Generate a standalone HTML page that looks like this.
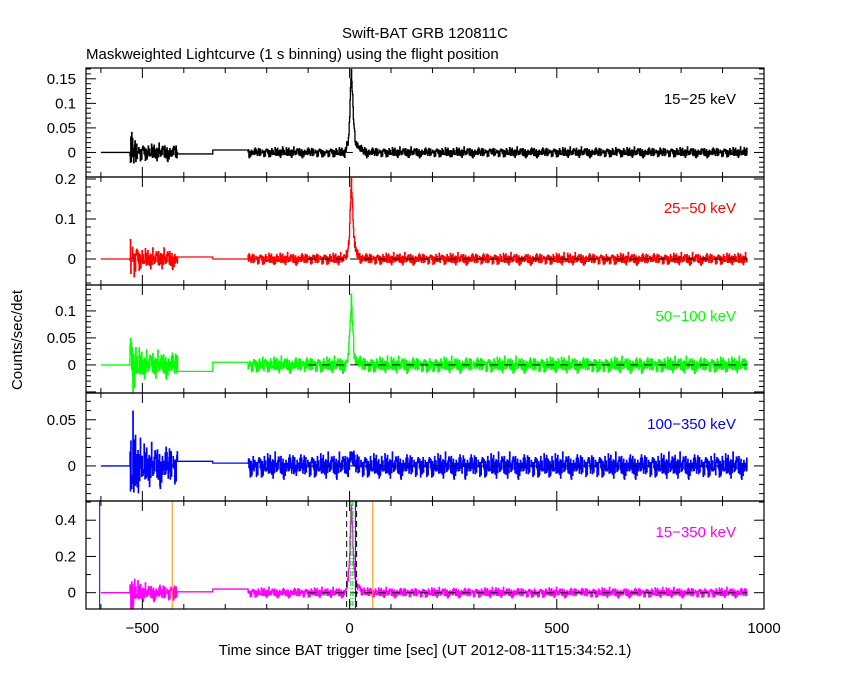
<!DOCTYPE html>
<html><head><meta charset="utf-8">
<style>
body{margin:0;background:#fff;}
svg{display:block;font-family:"Liberation Sans",sans-serif;}
text{font-size:15px;}
</style></head>
<body>
<svg id="chart" width="850" height="680" xmlns="http://www.w3.org/2000/svg">
<rect width="850" height="680" fill="#fff"/>
<defs id="defs"></defs>
<text x="425" y="38" text-anchor="middle">Swift-BAT GRB 120811C</text>
<text x="86" y="59">Maskweighted Lightcurve (1 s binning) using the flight position</text>
<text transform="translate(22,340) rotate(-90)" text-anchor="middle">Counts/sec/det</text>
<text x="425" y="655" text-anchor="middle">Time since BAT trigger time [sec] (UT 2012-08-11T15:34:52.1)</text>
<g id="plots"></g>
</svg>
<script>
// ---- data ----
const segBounds = [-600, -530, -415, -330, -245, 960]; // segment edges (s)
const bandLabels = ["15-25 keV", "25-50 keV", "50-100 keV", "100-350 keV", "15-350 keV"];
const flatLevels = [[0, -0.003, 0.005], [0, 0.005, 0], [0, -0.012, 0.005], [0, 0.005, 0.003], [0, 0.005, 0.02]];
const noiseAmp = [0.0045, 0.0065, 0.0065, 0.006, 0.012];
const earlyEnvelope = [5, 4.5, 3.6, 2.9, 2.5, 2.2, 2.0, 1.9, 1.8, 1.8, 1.7, 1.7];
const peakTimes = [-10, -6, -4, -2, 0, 2, 4, 6, 8, 10, 12, 14, 16, 20, 24, 30, 40];
const peak15_25 = [0.006, 0.012, 0.02, 0.04, 0.075, 0.125, 0.165, 0.13, 0.09, 0.058, 0.038, 0.026, 0.02, 0.013, 0.008, 0.004, 0];
const peak25_50 = [0.006, 0.014, 0.025, 0.05, 0.09, 0.15, 0.195, 0.15, 0.1, 0.06, 0.035, 0.022, 0.016, 0.01, 0.006, 0.003, 0];
const peak50_100 = [0.003, 0.008, 0.015, 0.03, 0.055, 0.095, 0.12, 0.09, 0.06, 0.035, 0.02, 0.012, 0.008, 0.005, 0.003, 0.001, 0];
const peak100_350 = [0, 0.002, 0.003, 0.005, 0.008, 0.01, 0.012, 0.009, 0.006, 0.004, 0.003, 0.002, 0.001, 0.001, 0, 0, 0];
const peak15_350 = [0.02, 0.04, 0.07, 0.13, 0.23, 0.38, 0.49, 0.38, 0.26, 0.16, 0.1, 0.07, 0.05, 0.03, 0.02, 0.01, 0];
const peaks = [peak15_25, peak25_50, peak50_100, peak100_350, peak15_350];
const noiseSample = [0.3,-1.2,0.8,-0.4,1.6,-0.9,0.1,-2.1,0.7,1.1,-0.3,0.5,-1.5,0.9,-0.6,2.2,-0.2,0.4,-1.0,1.3,
 -0.8,0.0,1.7,-1.4,0.6,-0.1,-1.9,1.0,0.2,-0.7,1.4,-0.5,0.9,-1.1,0.3,1.9,-1.6,0.5,-0.2,0.8,
 -1.3,1.2,-0.4,0.1,-2.4,0.7,1.5,-0.9,0.4,-0.6,1.8,-1.2,0.2,0.6,-1.7,1.1,-0.3,2.0,-0.8,0.5,
 -0.1,-1.4,1.3,0.3,-0.9,0.9,-2.0,0.4,1.6,-0.5,0.0,1.2,-1.1,0.7,-0.4,2.5,-1.8,0.2,0.8,-0.7,
 1.0,-0.2,-1.5,0.6,1.4,-1.0,0.3,-0.6,1.7,-1.3,0.5,0.1,-2.2,1.1,-0.4,0.9,-0.9,1.5,-0.1,-1.2,0.6];
const yTicks = [[0,0.05,0.1,0.15],[0,0.1,0.2],[0,0.05,0.1],[0,0.05],[0,0.2,0.4]];
const xTicks = [-500, 0, 500, 1000];
// ---- layout ----
const panelTops = [68,177,285,393,501,609];
const yDomains = [[-0.05,0.172],[-0.065,0.205],[-0.052,0.148],[-0.038,0.079],[-0.09,0.506]];
const yMinor = [0.01,0.02,0.01,0.01,0.1];
const yMajor = [0.05,0.1,0.05,0.05,0.2];
const colors = ["#000","#f00","#0f0","#00f","#f0f"];
const X0=86, X1=764, T0=-636, T1=1000;
const xs = t => X0 + (t - T0) * (X1 - X0) / (T1 - T0);
const NS="http://www.w3.org/2000/svg";
const g = document.getElementById('plots');
const defs = document.getElementById('defs');
function mk(tag, attrs, parent){const e=document.createElementNS(NS,tag);for(const k in attrs)e.setAttribute(k,attrs[k]);(parent||g).appendChild(e);return e;}
function noiseAt(i,p){const N=noiseSample.length;return noiseSample[(i*37+Math.floor(i/N)*11+p*7)%N];}
function peakVal(arr,t){ if(t<peakTimes[0]||t>=peakTimes[peakTimes.length-1])return 0;
  for(let j=0;j<peakTimes.length-1;j++){ if(t>=peakTimes[j]&&t<peakTimes[j+1]){const f=(t-peakTimes[j])/(peakTimes[j+1]-peakTimes[j]);return arr[j]+(arr[j+1]-arr[j])*f;} } return 0;}
for(let p=0;p<5;p++){
  const top=panelTops[p], bot=panelTops[p+1];
  const [d0,d1]=yDomains[p];
  const ys = v => bot - (v-d0)*(bot-top)/(d1-d0);
  const cp=mk('clipPath',{id:'clip'+p},defs);
  mk('rect',{x:X0,y:top,width:X1-X0,height:bot-top},cp);
  const pg = mk('g',{});
  
  
  const cg = mk('g',{'clip-path':'url(#clip'+p+')'},pg);
  let pts=[];
  const lv=flatLevels[p];
  pts.push([xs(segBounds[0]),ys(lv[0])],[xs(segBounds[1]),ys(lv[0])]);
  let idx=p*23+3;
  for(let t=segBounds[1];t<segBounds[2];t++){
    const e=earlyEnvelope[Math.min(earlyEnvelope.length-1,Math.floor((t-segBounds[1])/4))];
    const v=noiseAmp[p]*e*noiseAt(idx,p); idx++;
    pts.push([xs(t),ys(v)],[xs(t+1),ys(v)]);
  }
  pts.push([xs(segBounds[2]),ys(lv[1])],[xs(segBounds[3]),ys(lv[1])],[xs(segBounds[3]),ys(lv[2])],[xs(segBounds[4]),ys(lv[2])]);
  for(let t=segBounds[4];t<segBounds[5];t++){
    const v=noiseAmp[p]*noiseAt(idx,p)+peakVal(peaks[p],t); idx++;
    pts.push([xs(t),ys(v)],[xs(t+1),ys(v)]);
  }
  const series=mk('polyline',{points:pts.map(a=>a[0].toFixed(2)+','+a[1].toFixed(2)).join(' '),fill:'none',stroke:colors[p],'stroke-width':1.3},cg);
  
  
  const zl=mk('line',{x1:xs(p==0?-8:-100),x2:xs(p==0?8:960),y1:ys(0),y2:ys(0),stroke:'#000','stroke-dasharray':'8,6'},cg);
  
  
  if(p===4){
    const vl=[[-603,'#00f',null],[-428,'#f80',null],[14,'#00f',null],[56,'#f80',null],[-7,'#000','6,4'],[17,'#000','6,4'],[3,'#0c0','5,2,1,2'],[8,'#0c0','5,2,1,2']];
    vl.forEach(a=>{const l=mk('line',{x1:xs(a[0]),x2:xs(a[0]),y1:top,y2:bot,stroke:a[1],'stroke-width':1},cg);
      if(a[2])l.setAttribute('stroke-dasharray',a[2]);
      
      });
  }
  const fr=mk('rect',{x:X0,y:top,width:X1-X0,height:bot-top,fill:'none',stroke:'#000','stroke-width':1.2},pg);
  
  
  for(let t=-600;t<=1000;t+=100){
    const L=(t%500===0)?10:5;
    mk('line',{x1:xs(t),x2:xs(t),y1:bot,y2:bot-L,stroke:'#000'},pg);
    mk('line',{x1:xs(t),x2:xs(t),y1:top,y2:top+L,stroke:'#000'},pg);
  }
  const m=yMinor[p];
  for(let k=Math.ceil(d0/m);k*m<=d1;k++){
    const v=k*m; const maj=Math.abs(v/yMajor[p]-Math.round(v/yMajor[p]))<1e-6;
    const L=maj?10:5;
    mk('line',{x1:X0,x2:X0+L,y1:ys(v),y2:ys(v),stroke:'#000'},pg);
    mk('line',{x1:X1,x2:X1-L,y1:ys(v),y2:ys(v),stroke:'#000'},pg);
  }
  yTicks[p].forEach(v=>{
    const tl=mk('text',{x:X0-10,y:ys(v)+5,'text-anchor':'end'},pg);
    tl.textContent=String(v);
    
    
  });
  const lb=mk('text',{x:736,y:top+36,'text-anchor':'end',fill:colors[p]},pg);
  lb.textContent=bandLabels[p].replace('-','\u2212');
  
  
}
xTicks.forEach(t=>{
  const tl=mk('text',{x:xs(t),y:633,'text-anchor':'middle'});
  tl.textContent=String(t).replace('-','\u2212');
  
  
});
</script>
</body></html>
